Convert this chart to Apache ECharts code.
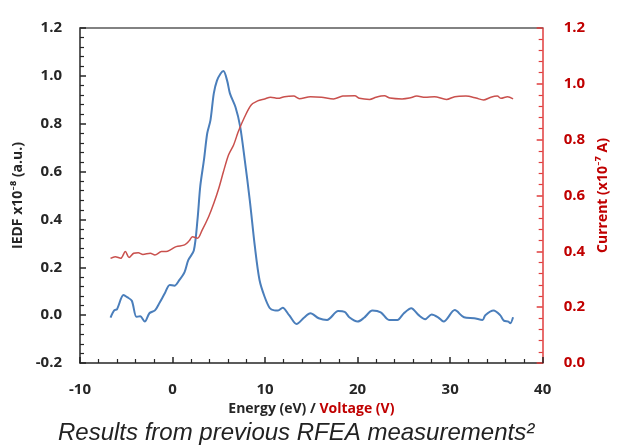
<!DOCTYPE html>
<html>
<head>
<meta charset="utf-8">
<script src="https://cdn.jsdelivr.net/npm/echarts@6/dist/echarts.min.js"></script>
<style>
body{
	margin:0;
	background:#ffffff;
}
#chart{
	width:618px;
	height:446px;
}
</style>
</head>
<body>
<div id="chart"></div>
<script type="text/javascript">
// IEDF (left axis), energy in eV
var iedfEnergy = [-6.7,-6.3,-6.0,-5.3,-4.9,-4.4,-3.9,-3.5,-3.0,-2.5,-1.9,-1.4,-0.85,-0.3,0.2,0.74,1.3,1.7,2.3,2.7,3.0,3.4,3.75,4.1,4.46,4.8,5.2,5.5,5.9,6.2,6.8,7.3,7.8,8.35,8.9,9.4,9.95,10.5,11.0,11.4,11.9,12.6,13.4,14.2,14.9,15.8,16.7,17.9,18.6,19.1,20.0,20.7,21.6,22.5,23.4,24.3,25.0,25.8,26.6,27.3,28.0,28.7,29.3,30.5,31.5,32.6,33.5,33.8,34.7,35.4,35.8,36.3,36.5,36.8];
var iedfValues = [-0.01,0.02,0.025,0.084,0.075,0.06,-0.007,-0.005,-0.027,0.008,0.02,0.052,0.09,0.126,0.123,0.147,0.18,0.23,0.27,0.40,0.54,0.65,0.76,0.815,0.927,0.98,1.01,1.02,0.98,0.927,0.87,0.79,0.65,0.48,0.286,0.147,0.077,0.03,0.02,0.019,0.031,0.0,-0.037,-0.011,0.008,-0.013,-0.02,0.017,0.014,-0.009,-0.027,-0.011,0.019,0.012,-0.02,-0.02,0.008,0.029,0.0,-0.017,0.003,-0.009,-0.027,0.021,-0.009,-0.013,-0.02,0.0,0.019,0.0,-0.023,-0.027,-0.034,-0.009];

// collector current (right axis), voltage in V
var currVoltage = [-6.7,-6.2,-5.6,-5.1,-4.7,-4.2,-3.7,-3.2,-2.4,-1.9,-1.2,-0.7,-0.14,0.4,1.3,1.8,2.15,2.7,3.2,3.9,4.46,5.0,5.5,6.05,6.6,7.1,7.8,8.5,9.2,9.95,10.6,11.4,12.1,13.1,13.7,14.9,16.1,17.4,18.4,19.7,20.2,21.3,22.0,22.9,23.5,24.8,25.6,26.4,27.3,28.3,29.6,30.5,31.7,32.8,33.6,34.4,35.1,35.5,36.2,36.8];
var currValues = [0.375,0.381,0.375,0.399,0.378,0.393,0.395,0.389,0.393,0.387,0.399,0.399,0.407,0.417,0.423,0.438,0.452,0.447,0.476,0.524,0.572,0.626,0.685,0.745,0.781,0.828,0.882,0.924,0.939,0.946,0.952,0.948,0.954,0.956,0.947,0.954,0.952,0.946,0.956,0.957,0.948,0.944,0.952,0.957,0.949,0.946,0.949,0.956,0.952,0.954,0.944,0.954,0.956,0.949,0.942,0.952,0.956,0.948,0.954,0.946];

// axis ranges: [min, max, major step, minor count]
var xRange = [-10, 40, 10, 5];
var leftRange = [-0.2, 1.2, 0.2, 5];
var rightRange = [0.0, 1.2, 0.2, 5];

var RED = '#c00000';
var RED_LINE = '#e03c3c';
var DARK = '#262626';
var FONT = '"Open Sans", Lato, sans-serif';

function pairs(xs, ys) {
	var out = [];
	for (var i = 0; i < xs.length; i++) out.push([xs[i], ys[i]]);
	return out;
}

function ticks(color) {
	return {show: true, inside: true, length: 6, lineStyle: {color: color, width: 1.5}};
}
function minor(color, n) {
	return {show: true, splitNumber: n, length: 4, lineStyle: {color: color, width: 1.2}};
}

function setChart(id) {
	var chart = echarts.init(document.getElementById(id));
	chart.setOption({
		animation: false,
		grid: {left: 80, right: 67, top: 28, bottom: 83},
		xAxis: [{
			type: 'value',
			min: xRange[0],
			max: xRange[1],
			interval: xRange[2],
			name: '{a|Energy (eV) / }{b|Voltage (V)}',
			nameLocation: 'middle',
			nameGap: 27,
			nameTextStyle: {
				rich: {
					a: {color: DARK, fontWeight: 'bold', fontSize: 14, fontFamily: FONT},
					b: {color: RED, fontWeight: 'bold', fontSize: 14, fontFamily: FONT}
				}
			},
			axisLine: {show: true, onZero: false, lineStyle: {color: DARK, width: 1.5}},
			axisTick: ticks(DARK),
			minorTick: minor(DARK, xRange[3]),
			splitLine: {show: false},
			axisLabel: {
				margin: 19,
				color: DARK,
				fontWeight: 'bold',
				fontSize: 15,
				fontFamily: FONT
			}
		}, {
			// top border of the plot box
			type: 'value',
			position: 'top',
			min: xRange[0],
			max: xRange[1],
			axisLine: {show: true, onZero: false, lineStyle: {color: '#595959', width: 1.5}},
			axisTick: {show: false},
			axisLabel: {show: false},
			splitLine: {show: false}
		}],
		yAxis: [{
			type: 'value',
			min: leftRange[0],
			max: leftRange[1],
			interval: leftRange[2],
			name: 'IEDF x10\u207B\u2078 (a.u.)',
			nameLocation: 'middle',
			nameRotate: 90,
			nameGap: 32,
			nameTextStyle: {color: DARK, fontWeight: 'bold', fontSize: 14, fontFamily: FONT},
			axisLine: {show: true, onZero: false, lineStyle: {color: DARK, width: 1.5}},
			axisTick: ticks(DARK),
			minorTick: minor(DARK, leftRange[3]),
			splitLine: {show: false},
			axisLabel: {
				margin: 18,
				color: DARK,
				fontWeight: 'bold',
				fontSize: 15,
				fontFamily: FONT,
				formatter: function (v) { return v.toFixed(1); }
			}
		}, {
			type: 'value',
			position: 'right',
			min: rightRange[0],
			max: rightRange[1],
			interval: rightRange[2],
			name: 'Current (x10\u207B\u2077 A)',
			nameLocation: 'middle',
			nameRotate: 90,
			nameGap: 53,
			nameTextStyle: {color: RED, fontWeight: 'bold', fontSize: 14, fontFamily: FONT},
			axisLine: {show: true, onZero: false, lineStyle: {color: RED_LINE, width: 1.5}},
			axisTick: ticks(RED_LINE),
			minorTick: minor(RED_LINE, rightRange[3]),
			splitLine: {show: false},
			axisLabel: {
				margin: 21,
				color: RED,
				fontWeight: 'bold',
				fontSize: 15,
				fontFamily: FONT,
				formatter: function (v) { return v.toFixed(1); }
			}
		}],
		series: [{
			name: 'IEDF',
			type: 'line',
			yAxisIndex: 0,
			smooth: 0.3,
			showSymbol: false,
			data: pairs(iedfEnergy, iedfValues),
			lineStyle: {color: '#4a7ebb', width: 2}
		}, {
			name: 'Current',
			type: 'line',
			yAxisIndex: 1,
			smooth: 0.3,
			showSymbol: false,
			data: pairs(currVoltage, currValues),
			lineStyle: {color: '#c9504d', width: 1.5}
		}],
		graphic: [{
			type: 'text',
			left: 58,
			top: 421,
			style: {
				text: 'Results from previous RFEA measurements\u00B2',
				fontFamily: '"Liberation Sans", Arial, sans-serif',
				fontStyle: 'italic',
				fontSize: 24,
				fill: '#222222'
			}
		}]
	});
	return chart;
}

var chartObj = setChart('chart');
</script>
</body>
</html>
